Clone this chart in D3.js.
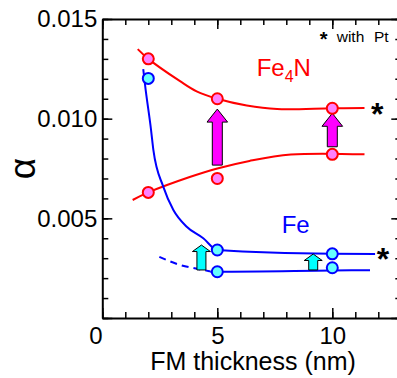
<!DOCTYPE html>
<html>
<head>
<meta charset="utf-8">
<script src="https://cdn.jsdelivr.net/npm/d3@7"></script>
<style>
  body { margin: 0; background: #fff; }
  svg { font-family: "Liberation Sans", Arial, sans-serif; }
</style>
</head>
<body>
<div id="chart"></div>
<script>
const width = 397, height = 378;

// measured points (thickness nm, damping alpha)
const fe4nPtPts = [[2, 0.0130], [5, 0.0110], [10, 0.01052]];
const fe4nPts   = [[2, 0.0063], [5, 0.0070], [10, 0.00821]];
const fePtPts   = [[2, 0.01202], [5, 0.00341], [10, 0.00322]];
const fePts     = [[5, 0.00232], [10, 0.00252]];

// guide curves
const fe4nPtCurve = [[1.54, 0.01349], [2, 0.0130], [3.38, 0.01188], [4.1, 0.01137], [5, 0.0110],
                     [6.28, 0.01066], [7.6, 0.01048], [10, 0.01052], [11.4, 0.01053]];
const fe4nCurve   = [[1.32, 0.00592], [2, 0.0063], [3.8, 0.00707], [5, 0.00750], [6.4, 0.00788],
                     [8.2, 0.0082], [11.4, 0.00821]];
const fePtCurve   = [[1.78, 0.01249], [1.86, 0.01168], [2.12, 0.00943], [2.22, 0.00843], [2.65, 0.00659],
                     [3.09, 0.00542], [3.67, 0.00458], [4.39, 0.0040], [5, 0.00341], [10, 0.00322], [11.86, 0.00321]];
const feDashCurve = [[2.48, 0.00307], [3.3, 0.00269], [4.17, 0.00246], [4.69, 0.00234]];
const feCurve     = [[4.69, 0.00232], [5, 0.00232], [10, 0.00238], [11.64, 0.0024]];

// arrows: x, from, to
const pinkArrows = [[5, 0.00767, 0.01048], [10, 0.00859, 0.01027]];
const cyanArrows = [[4.31, 0.00241, 0.00366], [9.17, 0.00241, 0.00321]];

// star markers (with Pt)
const stars = [[11.95, 0.01055], [12.2, 0.00325]];

const xMajor = [0, 5, 10];
const yMajor = [0, 0.005, 0.010, 0.015];

const x = d3.scaleLinear().domain([0, 13]).range([102.3, 401.3]);
const y = d3.scaleLinear().domain([0, 0.015]).range([318, 19]);

const svg = d3.select("#chart").append("svg")
    .attr("width", width).attr("height", height);

// axes: minor ticks first, then major ticks with the domain line
function frame(makeAxis, pos, major, minor, labels, fmt) {
  const g = svg.append("g").attr("transform", pos)
    .call(makeAxis().tickValues(minor).tickSizeInner(-6).tickSizeOuter(0).tickFormat(""));
  g.select(".domain").remove();
  g.selectAll(".tick line").attr("stroke-width", 1.5);
  const m = svg.append("g").attr("transform", pos)
    .call(makeAxis().tickValues(major).tickSizeInner(-10).tickSizeOuter(0)
      .tickPadding(labels ? (fmt ? 5 : 9) : 0)
      .tickFormat(labels ? (fmt || d3.format("d")) : ""));
  m.select(".domain").attr("stroke-width", 2);
  m.selectAll(".tick line").attr("stroke-width", 1.5);
  m.selectAll("text").attr("font-size", 24).attr("fill", "#000")
    .attr("font-family", "Liberation Sans, Arial, sans-serif");
  return m;
}

const xMinor = d3.range(0, 14);
const yMinor = d3.range(0, 16).map(d => d * 0.001);

const bottom = frame(() => d3.axisBottom(x), `translate(0,${y(0)})`, xMajor, xMinor, true);
bottom.selectAll(".tick text").attr("dx", d => d === 0 ? -7 : 0);
frame(() => d3.axisTop(x), `translate(0,${y(0.015)})`, xMajor, xMinor, false);
const left = frame(() => d3.axisLeft(y), `translate(${x(0)},0)`, yMajor, yMinor, true, d3.format(".3f"));
left.selectAll(".tick text").filter(d => d === 0).remove();
frame(() => d3.axisRight(y), `translate(${x(13)},0)`, yMajor, yMinor, false);

// axis titles
svg.append("text")
  .attr("x", 253).attr("y", 370)
  .attr("text-anchor", "middle")
  .attr("font-size", 25)
  .text("FM thickness (nm)");

svg.append("text")
  .attr("transform", "translate(35,168.5) rotate(-90)")
  .attr("text-anchor", "middle")
  .attr("font-size", 37)
  .text("α");

// curves
const smooth = d3.line().x(d => x(d[0])).y(d => y(d[1])).curve(d3.curveCatmullRom.alpha(0.5));
const mono = d3.line().x(d => x(d[0])).y(d => y(d[1])).curve(d3.curveMonotoneX);

function curve(data, color, gen, dash) {
  svg.append("path")
    .datum(data)
    .attr("d", gen)
    .attr("fill", "none")
    .attr("stroke", color)
    .attr("stroke-width", 2)
    .attr("stroke-dasharray", dash || null);
}
curve(fe4nPtCurve, "#ff0000", smooth);
curve(fe4nCurve, "#ff0000", smooth);
curve(fePtCurve, "#0000ff", mono);
curve(feDashCurve, "#0000ff", mono, "7,5");
curve(feCurve, "#0000ff", mono);

// arrows
function arrow(d, fill, sw, hw, hl) {
  const cx = x(d[0]), y0 = y(d[1]), y1 = y(d[2]);
  const p = d3.path();
  p.moveTo(cx - sw, y0);
  p.lineTo(cx - sw, y1 + hl);
  p.lineTo(cx - hw, y1 + hl);
  p.lineTo(cx, y1);
  p.lineTo(cx + hw, y1 + hl);
  p.lineTo(cx + sw, y1 + hl);
  p.lineTo(cx + sw, y0);
  p.closePath();
  svg.append("path").attr("d", p.toString())
    .attr("fill", fill).attr("stroke", "#000").attr("stroke-width", 1);
}
pinkArrows.forEach(d => arrow(d, "#ff00ff", 5, 10.3, 13));
cyanArrows.forEach(d => arrow(d, "#00ffff", 4.5, 9, 6.5));

// points
function points(data, fill, stroke) {
  svg.append("g").selectAll("circle")
    .data(data)
    .join("circle")
    .attr("cx", d => x(d[0]))
    .attr("cy", d => y(d[1]))
    .attr("r", 5.5)
    .attr("fill", fill)
    .attr("stroke", stroke)
    .attr("stroke-width", 2);
}
points(fe4nPtPts, "#ff80ff", "#ff0000");
points(fe4nPts, "#ff80ff", "#ff0000");
points(fePtPts, "#66ffff", "#0000ff");
points(fePts, "#66ffff", "#0000ff");

// stars
svg.append("g").selectAll("text")
  .data(stars)
  .join("text")
  .attr("x", d => x(d[0]))
  .attr("y", d => y(d[1]) + 17)
  .attr("text-anchor", "middle")
  .attr("font-size", 32)
  .attr("font-weight", "bold")
  .text("*");

// labels
const fe4n = svg.append("text")
  .attr("x", 256.7).attr("y", 76)
  .attr("font-size", 24)
  .attr("fill", "#ff0000");
fe4n.append("tspan").text("Fe");
fe4n.append("tspan").attr("font-size", 16).attr("dy", 6).text("4");
fe4n.append("tspan").attr("dy", -6).text("N");

svg.append("text")
  .attr("x", 281.7).attr("y", 232.7)
  .attr("font-size", 24)
  .attr("fill", "#0000ff")
  .text("Fe");

svg.append("text")
  .attr("x", 323.7).attr("y", 46)
  .attr("text-anchor", "middle")
  .attr("font-size", 20)
  .attr("font-weight", "bold")
  .text("*");
svg.append("text")
  .attr("x", 336.7).attr("y", 42)
  .attr("font-size", 15.5)
  .text("with");
svg.append("text")
  .attr("x", 374).attr("y", 42)
  .attr("font-size", 15.5)
  .text("Pt");
</script>
</body>
</html>
